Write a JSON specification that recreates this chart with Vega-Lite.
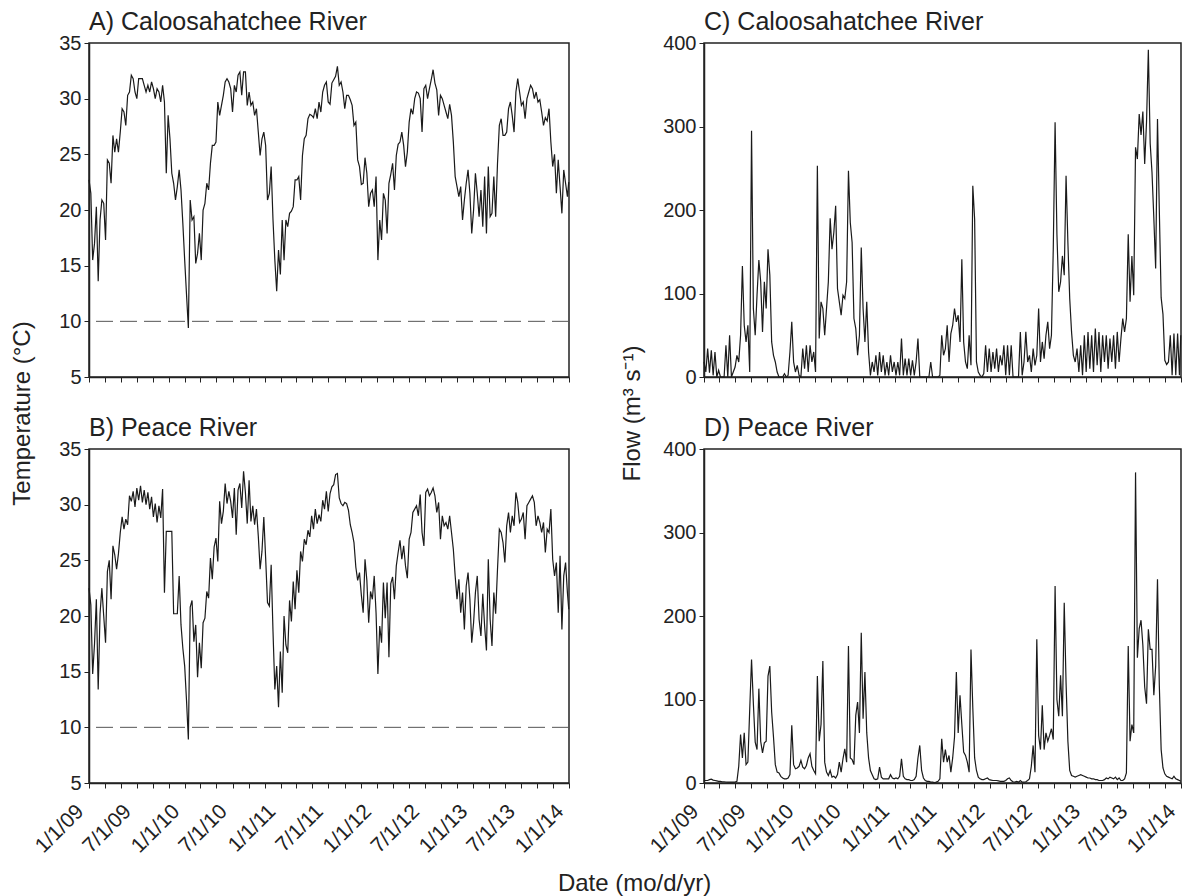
{
"$schema": "https://vega.github.io/schema/vega-lite/v6.json",
"background": "white",
"padding": {"left": 9, "top": 9, "right": 2, "bottom": 1},
"data": {"format": {"parse": {"t": "date:'%Y-%m-%d'"}}, "values": [
{"t":"2009-01-01","a":22.7,"b":22.5,"c":18,"d":3},
{"t":"2009-01-08","a":21.5,"b":21,"c":6,"d":3},
{"t":"2009-01-15","a":15.5,"b":14.8,"c":34,"d":3},
{"t":"2009-01-22","a":17,"b":17.5,"c":5,"d":4},
{"t":"2009-01-29","a":20.3,"b":21.5,"c":32,"d":4.5},
{"t":"2009-02-05","a":13.6,"b":13.4,"c":2,"d":3.5},
{"t":"2009-02-12","a":19.1,"b":20.2,"c":30,"d":3},
{"t":"2009-02-19","a":20.9,"b":22.5,"c":0,"d":2.5},
{"t":"2009-02-26","a":20.6,"b":20,"c":8,"d":2},
{"t":"2009-03-05","a":17.3,"b":17.6,"c":0,"d":2},
{"t":"2009-03-12","a":24.5,"b":24,"c":0,"d":1.5},
{"t":"2009-03-19","a":24.2,"b":25,"c":0,"d":1.5},
{"t":"2009-03-26","a":22.4,"b":21.5,"c":38,"d":1.2},
{"t":"2009-04-02","a":26.7,"b":26.3,"c":0,"d":1},
{"t":"2009-04-09","a":25.2,"b":25.5,"c":50,"d":1},
{"t":"2009-04-16","a":26.4,"b":24.2,"c":0,"d":1},
{"t":"2009-04-23","a":25.2,"b":25.6,"c":6,"d":1},
{"t":"2009-04-30","a":27,"b":27.5,"c":12,"d":1},
{"t":"2009-05-07","a":29.1,"b":28.9,"c":26,"d":2},
{"t":"2009-05-14","a":28.8,"b":27.8,"c":18,"d":20},
{"t":"2009-05-21","a":27.6,"b":28.7,"c":50,"d":58},
{"t":"2009-05-28","a":30.3,"b":28.2,"c":133,"d":30},
{"t":"2009-06-04","a":30.6,"b":30.8,"c":62,"d":60},
{"t":"2009-06-11","a":32.1,"b":30.3,"c":42,"d":22},
{"t":"2009-06-18","a":31.8,"b":31.2,"c":62,"d":25},
{"t":"2009-06-25","a":30.6,"b":29.8,"c":6,"d":88},
{"t":"2009-07-02","a":30,"b":31.5,"c":295,"d":148},
{"t":"2009-07-09","a":31.8,"b":30.4,"c":82,"d":95},
{"t":"2009-07-16","a":31.8,"b":31.7,"c":50,"d":49},
{"t":"2009-07-23","a":31.8,"b":30.2,"c":98,"d":40},
{"t":"2009-07-30","a":31.2,"b":31.3,"c":140,"d":113},
{"t":"2009-08-06","a":30.6,"b":30,"c":114,"d":50},
{"t":"2009-08-13","a":31.2,"b":31.1,"c":54,"d":36},
{"t":"2009-08-20","a":30.6,"b":29.6,"c":114,"d":48},
{"t":"2009-08-27","a":31.5,"b":30.7,"c":82,"d":50},
{"t":"2009-09-03","a":30.9,"b":28.9,"c":153,"d":128},
{"t":"2009-09-10","a":30,"b":30.1,"c":122,"d":140},
{"t":"2009-09-17","a":30.9,"b":28.4,"c":42,"d":85},
{"t":"2009-09-24","a":30.6,"b":29.9,"c":26,"d":55},
{"t":"2009-10-01","a":29.7,"b":28.8,"c":18,"d":22},
{"t":"2009-10-08","a":31.2,"b":31.4,"c":6,"d":13},
{"t":"2009-10-15","a":29.7,"b":22.1,"c":0,"d":12},
{"t":"2009-10-22","a":23.3,"b":27.6,"c":0,"d":8},
{"t":"2009-10-29","a":28.5,"b":27.6,"c":0,"d":6},
{"t":"2009-11-05","a":26.4,"b":27.6,"c":4,"d":5},
{"t":"2009-11-12","a":23.3,"b":27.6,"c":0,"d":5},
{"t":"2009-11-19","a":22.4,"b":20.2,"c":2,"d":6},
{"t":"2009-11-26","a":20.9,"b":20.2,"c":30,"d":10},
{"t":"2009-12-03","a":22.1,"b":20.2,"c":66,"d":69},
{"t":"2009-12-10","a":23.6,"b":23.6,"c":18,"d":22},
{"t":"2009-12-17","a":21.8,"b":19.2,"c":6,"d":17},
{"t":"2009-12-24","a":18.8,"b":17.1,"c":14,"d":18},
{"t":"2009-12-31","a":15.5,"b":15.5,"c":2,"d":20},
{"t":"2010-01-07","a":12.4,"b":12.4,"c":0,"d":27},
{"t":"2010-01-14","a":9.4,"b":8.9,"c":34,"d":19},
{"t":"2010-01-21","a":20.9,"b":20.8,"c":10,"d":17},
{"t":"2010-01-28","a":19.1,"b":21.4,"c":38,"d":21},
{"t":"2010-02-04","a":19.4,"b":17.7,"c":6,"d":30},
{"t":"2010-02-11","a":15.2,"b":19.2,"c":38,"d":35},
{"t":"2010-02-18","a":16.1,"b":14.5,"c":18,"d":20},
{"t":"2010-02-25","a":17.9,"b":17.6,"c":30,"d":15},
{"t":"2010-03-04","a":15.5,"b":15.3,"c":6,"d":11},
{"t":"2010-03-11","a":20,"b":19.4,"c":253,"d":128},
{"t":"2010-03-18","a":20.6,"b":19.8,"c":46,"d":50},
{"t":"2010-03-25","a":22.4,"b":22.2,"c":90,"d":70},
{"t":"2010-04-01","a":21.8,"b":21.6,"c":82,"d":146},
{"t":"2010-04-08","a":24.2,"b":25.2,"c":50,"d":25},
{"t":"2010-04-15","a":25.8,"b":23.3,"c":82,"d":13},
{"t":"2010-04-22","a":25.8,"b":26.2,"c":114,"d":9},
{"t":"2010-04-29","a":26.1,"b":27,"c":190,"d":15},
{"t":"2010-05-06","a":29.7,"b":24.9,"c":153,"d":7},
{"t":"2010-05-13","a":28.5,"b":30.3,"c":173,"d":8},
{"t":"2010-05-20","a":29.4,"b":28.3,"c":205,"d":6},
{"t":"2010-05-27","a":30.3,"b":29.4,"c":106,"d":10},
{"t":"2010-06-03","a":31.5,"b":31.9,"c":90,"d":25},
{"t":"2010-06-10","a":31.8,"b":30.1,"c":74,"d":13},
{"t":"2010-06-17","a":31.5,"b":31.2,"c":98,"d":29},
{"t":"2010-06-24","a":30.9,"b":30.3,"c":94,"d":41},
{"t":"2010-07-01","a":28.8,"b":28.8,"c":114,"d":25},
{"t":"2010-07-08","a":31.2,"b":31.5,"c":247,"d":164},
{"t":"2010-07-15","a":30.6,"b":27.3,"c":185,"d":30},
{"t":"2010-07-22","a":32.1,"b":31.3,"c":161,"d":28},
{"t":"2010-07-29","a":32.4,"b":31.9,"c":70,"d":22},
{"t":"2010-08-05","a":30.3,"b":29.7,"c":58,"d":81},
{"t":"2010-08-12","a":32.4,"b":33,"c":26,"d":97},
{"t":"2010-08-19","a":32.4,"b":31.1,"c":50,"d":60},
{"t":"2010-08-26","a":29.4,"b":28.3,"c":155,"d":180},
{"t":"2010-09-02","a":30.6,"b":32.2,"c":82,"d":77},
{"t":"2010-09-09","a":29.4,"b":28.5,"c":42,"d":133},
{"t":"2010-09-16","a":29.7,"b":29.9,"c":90,"d":60},
{"t":"2010-09-23","a":28.5,"b":28.2,"c":30,"d":30},
{"t":"2010-09-30","a":29.1,"b":29.6,"c":2,"d":15},
{"t":"2010-10-07","a":27,"b":27.2,"c":18,"d":10},
{"t":"2010-10-14","a":24.9,"b":24.2,"c":6,"d":5},
{"t":"2010-10-21","a":26.4,"b":25.8,"c":26,"d":4},
{"t":"2010-10-28","a":27,"b":28.9,"c":2,"d":5},
{"t":"2010-11-04","a":25.8,"b":25.2,"c":30,"d":19},
{"t":"2010-11-11","a":20.9,"b":21.2,"c":6,"d":7},
{"t":"2010-11-18","a":21.5,"b":20.9,"c":26,"d":5},
{"t":"2010-11-25","a":23.9,"b":24.6,"c":2,"d":5},
{"t":"2010-12-02","a":19.1,"b":18.6,"c":18,"d":5},
{"t":"2010-12-09","a":15.5,"b":13.4,"c":2,"d":5},
{"t":"2010-12-16","a":12.7,"b":15.5,"c":26,"d":10},
{"t":"2010-12-23","a":16.4,"b":11.8,"c":6,"d":6},
{"t":"2010-12-30","a":14.2,"b":16.8,"c":18,"d":5},
{"t":"2011-01-06","a":19.1,"b":13.1,"c":2,"d":6},
{"t":"2011-01-13","a":15.5,"b":20,"c":18,"d":5},
{"t":"2011-01-20","a":19.1,"b":17.4,"c":2,"d":8},
{"t":"2011-01-27","a":18.5,"b":16.7,"c":46,"d":29},
{"t":"2011-02-03","a":19.7,"b":21.4,"c":2,"d":8},
{"t":"2011-02-10","a":19.9,"b":19.5,"c":22,"d":5},
{"t":"2011-02-17","a":20.3,"b":23.1,"c":2,"d":4},
{"t":"2011-02-24","a":22.7,"b":20.6,"c":22,"d":4},
{"t":"2011-03-03","a":22.7,"b":24.1,"c":2,"d":3},
{"t":"2011-03-10","a":23,"b":22.1,"c":20,"d":3},
{"t":"2011-03-17","a":20.9,"b":25.8,"c":2,"d":4},
{"t":"2011-03-24","a":24.9,"b":24.9,"c":18,"d":8},
{"t":"2011-03-31","a":26.4,"b":26.9,"c":46,"d":30},
{"t":"2011-04-07","a":26.7,"b":26.4,"c":0,"d":45},
{"t":"2011-04-14","a":28.2,"b":27.7,"c":0,"d":15},
{"t":"2011-04-21","a":28.6,"b":27.1,"c":0,"d":6},
{"t":"2011-04-28","a":28.5,"b":29,"c":0,"d":3},
{"t":"2011-05-05","a":28.3,"b":27.8,"c":0,"d":2},
{"t":"2011-05-12","a":29.1,"b":29.6,"c":0,"d":2},
{"t":"2011-05-19","a":28.2,"b":28.3,"c":18,"d":1},
{"t":"2011-05-26","a":29.7,"b":29.1,"c":0,"d":1},
{"t":"2011-06-02","a":28.8,"b":28.5,"c":0,"d":0.5},
{"t":"2011-06-09","a":30.6,"b":30.4,"c":0,"d":1},
{"t":"2011-06-16","a":31.2,"b":29.6,"c":0,"d":2},
{"t":"2011-06-23","a":31.5,"b":31.2,"c":2,"d":5},
{"t":"2011-06-30","a":29.7,"b":29.4,"c":50,"d":53},
{"t":"2011-07-07","a":29.5,"b":31,"c":26,"d":25},
{"t":"2011-07-14","a":31.4,"b":31.6,"c":34,"d":40},
{"t":"2011-07-21","a":31.7,"b":31.8,"c":62,"d":25},
{"t":"2011-07-28","a":32,"b":32.7,"c":18,"d":33},
{"t":"2011-08-04","a":32.9,"b":32.8,"c":52,"d":13},
{"t":"2011-08-11","a":31.2,"b":30.6,"c":62,"d":30},
{"t":"2011-08-18","a":31.5,"b":30.1,"c":82,"d":55},
{"t":"2011-08-25","a":30.6,"b":29.9,"c":66,"d":133},
{"t":"2011-09-01","a":29.1,"b":30.2,"c":74,"d":60},
{"t":"2011-09-08","a":30.3,"b":30.1,"c":42,"d":105},
{"t":"2011-09-15","a":30.3,"b":29.5,"c":141,"d":70},
{"t":"2011-09-22","a":29.9,"b":28.2,"c":42,"d":37},
{"t":"2011-09-29","a":29.4,"b":27.5,"c":18,"d":33},
{"t":"2011-10-06","a":27.6,"b":26.6,"c":10,"d":25},
{"t":"2011-10-13","a":27.9,"b":24.4,"c":50,"d":13},
{"t":"2011-10-20","a":24.5,"b":23.2,"c":14,"d":160},
{"t":"2011-10-27","a":23.9,"b":23.9,"c":229,"d":90},
{"t":"2011-11-03","a":22.3,"b":21.9,"c":189,"d":30},
{"t":"2011-11-10","a":22.4,"b":20.3,"c":18,"d":15},
{"t":"2011-11-17","a":24.7,"b":25.1,"c":6,"d":7},
{"t":"2011-11-24","a":23.3,"b":23.2,"c":2,"d":5},
{"t":"2011-12-01","a":20.3,"b":19.4,"c":0,"d":4},
{"t":"2011-12-08","a":21.5,"b":22.2,"c":4,"d":4},
{"t":"2011-12-15","a":21.8,"b":21.5,"c":38,"d":5},
{"t":"2011-12-22","a":20.3,"b":23.6,"c":6,"d":6},
{"t":"2011-12-29","a":23,"b":20.3,"c":34,"d":4},
{"t":"2012-01-05","a":15.5,"b":14.8,"c":6,"d":3.5},
{"t":"2012-01-12","a":19.1,"b":19.1,"c":30,"d":3},
{"t":"2012-01-19","a":17.3,"b":17.6,"c":10,"d":3},
{"t":"2012-01-26","a":21.5,"b":23,"c":34,"d":3},
{"t":"2012-02-02","a":20.9,"b":19.8,"c":6,"d":2.5},
{"t":"2012-02-09","a":17.9,"b":23,"c":26,"d":2},
{"t":"2012-02-16","a":22.4,"b":16.3,"c":14,"d":2},
{"t":"2012-02-23","a":23.2,"b":22.9,"c":38,"d":2},
{"t":"2012-03-01","a":24.2,"b":23.5,"c":2,"d":3},
{"t":"2012-03-08","a":21.8,"b":21.5,"c":38,"d":5},
{"t":"2012-03-15","a":24.9,"b":24.5,"c":2,"d":6},
{"t":"2012-03-22","a":25.9,"b":25.7,"c":38,"d":3},
{"t":"2012-03-29","a":26.1,"b":26.8,"c":0,"d":1.5},
{"t":"2012-04-05","a":27,"b":25.1,"c":0,"d":1},
{"t":"2012-04-12","a":25.8,"b":26.3,"c":0,"d":2},
{"t":"2012-04-19","a":23.9,"b":24.5,"c":0,"d":1},
{"t":"2012-04-26","a":25.2,"b":23.4,"c":54,"d":3},
{"t":"2012-05-03","a":27.9,"b":26.9,"c":2,"d":1},
{"t":"2012-05-10","a":29.1,"b":27.5,"c":18,"d":1},
{"t":"2012-05-17","a":28.6,"b":29.3,"c":54,"d":1.5},
{"t":"2012-05-24","a":30,"b":29.6,"c":18,"d":3},
{"t":"2012-05-31","a":30.6,"b":29.9,"c":26,"d":5},
{"t":"2012-06-07","a":30.5,"b":29,"c":6,"d":20},
{"t":"2012-06-14","a":30,"b":30.9,"c":34,"d":45},
{"t":"2012-06-21","a":27,"b":27.5,"c":14,"d":13},
{"t":"2012-06-28","a":30.9,"b":26.3,"c":26,"d":172},
{"t":"2012-07-05","a":31.2,"b":31.1,"c":82,"d":57},
{"t":"2012-07-12","a":30,"b":31.4,"c":18,"d":40},
{"t":"2012-07-19","a":30.9,"b":30.8,"c":42,"d":93},
{"t":"2012-07-26","a":31.7,"b":31.1,"c":22,"d":40},
{"t":"2012-08-02","a":32.6,"b":31.5,"c":50,"d":60},
{"t":"2012-08-09","a":31.4,"b":30.8,"c":66,"d":50},
{"t":"2012-08-16","a":30.8,"b":29.3,"c":34,"d":57},
{"t":"2012-08-23","a":28.5,"b":30.2,"c":50,"d":65},
{"t":"2012-08-30","a":30.3,"b":26.9,"c":153,"d":52},
{"t":"2012-09-06","a":30,"b":29,"c":305,"d":236},
{"t":"2012-09-13","a":29.4,"b":28.1,"c":171,"d":100},
{"t":"2012-09-20","a":28.8,"b":28.4,"c":102,"d":80},
{"t":"2012-09-27","a":28.2,"b":27.8,"c":114,"d":129},
{"t":"2012-10-04","a":29.5,"b":29,"c":145,"d":80},
{"t":"2012-10-11","a":28.5,"b":27.5,"c":122,"d":216},
{"t":"2012-10-18","a":26.1,"b":26,"c":241,"d":120},
{"t":"2012-10-25","a":23,"b":23.6,"c":161,"d":50},
{"t":"2012-11-01","a":22.1,"b":21.5,"c":94,"d":15},
{"t":"2012-11-08","a":21.2,"b":23.3,"c":54,"d":9},
{"t":"2012-11-15","a":22.1,"b":20.3,"c":26,"d":8},
{"t":"2012-11-22","a":19.1,"b":22.1,"c":18,"d":7},
{"t":"2012-11-29","a":20.9,"b":18.8,"c":34,"d":8},
{"t":"2012-12-06","a":22.4,"b":22.7,"c":6,"d":9},
{"t":"2012-12-13","a":23.6,"b":23.9,"c":38,"d":10},
{"t":"2012-12-20","a":21.5,"b":21.5,"c":2,"d":9},
{"t":"2012-12-27","a":17.9,"b":17.6,"c":50,"d":8},
{"t":"2013-01-03","a":20,"b":19.4,"c":6,"d":7},
{"t":"2013-01-10","a":23.3,"b":22.1,"c":54,"d":6},
{"t":"2013-01-17","a":21.5,"b":23.6,"c":10,"d":6},
{"t":"2013-01-24","a":19.4,"b":19.7,"c":50,"d":5},
{"t":"2013-01-31","a":21.8,"b":18.2,"c":6,"d":5},
{"t":"2013-02-07","a":18.5,"b":22,"c":58,"d":4},
{"t":"2013-02-14","a":23,"b":19.1,"c":14,"d":4},
{"t":"2013-02-21","a":17.9,"b":16.9,"c":54,"d":3},
{"t":"2013-02-28","a":23.9,"b":25.1,"c":6,"d":3},
{"t":"2013-03-07","a":19.4,"b":19.7,"c":50,"d":3},
{"t":"2013-03-14","a":19.7,"b":17.3,"c":18,"d":4},
{"t":"2013-03-21","a":23,"b":22.1,"c":50,"d":6},
{"t":"2013-03-28","a":19.4,"b":20.2,"c":10,"d":5},
{"t":"2013-04-04","a":24.2,"b":24.2,"c":46,"d":7},
{"t":"2013-04-11","a":27.6,"b":27.8,"c":18,"d":6},
{"t":"2013-04-18","a":28.2,"b":27.5,"c":50,"d":5},
{"t":"2013-04-25","a":26.7,"b":26.6,"c":10,"d":7},
{"t":"2013-05-02","a":26.7,"b":24.8,"c":54,"d":4},
{"t":"2013-05-09","a":27,"b":28.1,"c":18,"d":6},
{"t":"2013-05-16","a":29.1,"b":29.3,"c":46,"d":3},
{"t":"2013-05-23","a":29.7,"b":27.5,"c":70,"d":3},
{"t":"2013-05-30","a":28.5,"b":29,"c":54,"d":5},
{"t":"2013-06-06","a":27,"b":28.1,"c":70,"d":12},
{"t":"2013-06-13","a":30.6,"b":31.1,"c":171,"d":164},
{"t":"2013-06-20","a":31.8,"b":30.2,"c":90,"d":50},
{"t":"2013-06-27","a":30.6,"b":28.4,"c":145,"d":70},
{"t":"2013-07-04","a":29.4,"b":28.7,"c":98,"d":60},
{"t":"2013-07-11","a":29.7,"b":29.3,"c":275,"d":372},
{"t":"2013-07-18","a":28.2,"b":26.9,"c":261,"d":150},
{"t":"2013-07-25","a":30,"b":29.9,"c":315,"d":185},
{"t":"2013-08-01","a":30.6,"b":30.2,"c":290,"d":195},
{"t":"2013-08-08","a":31.2,"b":30.5,"c":318,"d":165},
{"t":"2013-08-15","a":30.9,"b":30.8,"c":255,"d":115},
{"t":"2013-08-22","a":30,"b":30.2,"c":305,"d":95},
{"t":"2013-08-29","a":30.6,"b":28.1,"c":392,"d":184},
{"t":"2013-09-05","a":29.7,"b":29,"c":280,"d":160},
{"t":"2013-09-12","a":29.9,"b":28.4,"c":245,"d":160},
{"t":"2013-09-19","a":28.8,"b":27.5,"c":190,"d":105},
{"t":"2013-09-26","a":27.6,"b":28.4,"c":130,"d":140},
{"t":"2013-10-03","a":28.3,"b":25.7,"c":309,"d":244},
{"t":"2013-10-10","a":28,"b":27.8,"c":200,"d":117},
{"t":"2013-10-17","a":29.1,"b":27.5,"c":95,"d":40},
{"t":"2013-10-24","a":26.1,"b":29.6,"c":75,"d":18},
{"t":"2013-10-31","a":23.9,"b":25.1,"c":20,"d":11},
{"t":"2013-11-07","a":25,"b":23.6,"c":15,"d":8},
{"t":"2013-11-14","a":21.5,"b":24.8,"c":18,"d":7},
{"t":"2013-11-21","a":24.5,"b":20.3,"c":50,"d":6},
{"t":"2013-11-28","a":22.1,"b":25.4,"c":2,"d":5},
{"t":"2013-12-05","a":19.7,"b":18.8,"c":52,"d":8},
{"t":"2013-12-12","a":23.6,"b":23.6,"c":2,"d":5},
{"t":"2013-12-19","a":22.4,"b":24.8,"c":52,"d":4},
{"t":"2013-12-26","a":21.2,"b":22.1,"c":2,"d":3},
{"t":"2013-12-31","a":22.5,"b":20.6,"c":50,"d":2}
]},
"title": {"text": "Date (mo/d/yr)", "orient": "bottom", "anchor": "middle", "frame": "bounds", "dx": 38, "fontSize": 24, "offset": 15},
"columns": 2,
"spacing": {"row": 72, "column": 135},
"bounds": "flush",
"concat": [
{
 "width": 480, "height": 334,
 "title": {"text": "A) Caloosahatchee River"},
 "layer": [
  {"mark": {"type": "line", "color": "#1a1a1a", "strokeWidth": 1.2},
   "encoding": {
    "x": {"field": "t", "type": "temporal", "scale": {"domain": [{"year": 2009, "month": 1, "date": 1}, {"year": 2014, "month": 1, "date": 1}], "nice": false}, "axis": {"title": null, "labels": false, "tickCount": {"interval": "month", "step": 2}}},
    "y": {"field": "a", "type": "quantitative", "scale": {"domain": [5, 35], "nice": false}, "axis": {"values": [5, 10, 15, 20, 25, 30, 35], "title": "Temperature (°C)", "titleX": -55, "titleY": 370}}
   }},
  {"data": {"values": [{}]}, "mark": {"type": "rule", "color": "#555", "strokeDash": [17, 7], "strokeWidth": 1}, "encoding": {"y": {"datum": 10}}}
 ]
},
{
 "width": 477, "height": 334,
 "title": {"text": "C) Caloosahatchee River"},
 "mark": {"type": "line", "color": "#1a1a1a", "strokeWidth": 1.2},
 "encoding": {
  "x": {"field": "t", "type": "temporal", "scale": {"domain": [{"year": 2009, "month": 1, "date": 1}, {"year": 2014, "month": 1, "date": 1}], "nice": false}, "axis": {"title": null, "labels": false, "tickCount": {"interval": "month", "step": 2}}},
  "y": {"field": "c", "type": "quantitative", "scale": {"domain": [0, 400], "nice": false}, "axis": {"values": [0, 100, 200, 300, 400], "title": "Flow (m³ s⁻¹)", "titleX": -60, "titleY": 370}}
 }
},
{
 "width": 480, "height": 334,
 "title": {"text": "B) Peace River"},
 "layer": [
  {"mark": {"type": "line", "color": "#1a1a1a", "strokeWidth": 1.2},
   "encoding": {
    "x": {"field": "t", "type": "temporal", "scale": {"domain": [{"year": 2009, "month": 1, "date": 1}, {"year": 2014, "month": 1, "date": 1}], "nice": false}, "axis": {"title": null, "tickCount": {"interval": "month", "step": 2}, "labelExpr": "month(datum.value) % 6 == 0 ? timeFormat(datum.value, '%-m/%-d/%y') : ''", "labelAngle": -45, "labelAlign": "right", "labelBaseline": "middle", "labelPadding": 20, "labelOffset": -9, "labelFontSize": 21, "labelOverlap": false, "labelFlush": false}},
    "y": {"field": "b", "type": "quantitative", "scale": {"domain": [5, 35], "nice": false}, "axis": {"values": [5, 10, 15, 20, 25, 30, 35], "title": null}}
   }},
  {"data": {"values": [{}]}, "mark": {"type": "rule", "color": "#555", "strokeDash": [17, 7], "strokeWidth": 1}, "encoding": {"y": {"datum": 10}}}
 ]
},
{
 "width": 477, "height": 334,
 "title": {"text": "D) Peace River"},
 "mark": {"type": "line", "color": "#1a1a1a", "strokeWidth": 1.2},
 "encoding": {
  "x": {"field": "t", "type": "temporal", "scale": {"domain": [{"year": 2009, "month": 1, "date": 1}, {"year": 2014, "month": 1, "date": 1}], "nice": false}, "axis": {"title": null, "tickCount": {"interval": "month", "step": 2}, "labelExpr": "month(datum.value) % 6 == 0 ? timeFormat(datum.value, '%-m/%-d/%y') : ''", "labelAngle": -45, "labelAlign": "right", "labelBaseline": "middle", "labelPadding": 20, "labelOffset": -9, "labelFontSize": 21, "labelOverlap": false, "labelFlush": false}},
  "y": {"field": "d", "type": "quantitative", "scale": {"domain": [0, 400], "nice": false}, "axis": {"values": [0, 100, 200, 300, 400], "title": null}}
 }
}
],
"config": {
 "font": "Liberation Sans",
 "view": {"stroke": "#222", "strokeWidth": 1.5},
 "axis": {"grid": false, "domainColor": "#222", "domainWidth": 1.5, "tickColor": "#222", "tickSize": 5, "tickWidth": 1, "labelColor": "#222", "labelFontSize": 20, "labelFont": "Liberation Sans", "titleFont": "Liberation Sans", "titleFontSize": 24, "titleFontWeight": "normal", "titleColor": "#222", "labelPadding": 3},
 "title": {"fontSize": 25, "fontWeight": "normal", "anchor": "start", "frame": "group", "color": "#222", "font": "Liberation Sans", "offset": -2}
}
}
